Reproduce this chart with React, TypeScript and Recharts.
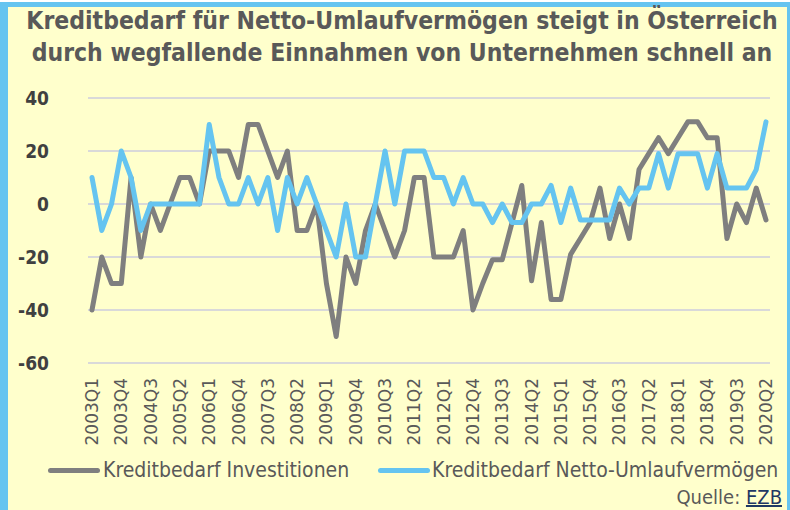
import { LineChart, Line, XAxis, YAxis, CartesianGrid } from "recharts"

// 2003Q1 .. 2020Q2
const years = [2003, 2004, 2005, 2006, 2007, 2008, 2009, 2010, 2011, 2012, 2013, 2014, 2015, 2016, 2017, 2018, 2019, 2020]
const quarters: string[] = years.flatMap((y) => [1, 2, 3, 4].map((q) => `${y}Q${q}`)).slice(0, 70)

const investitionen = [
  -40, -20, -30, -30, 10, -20, 0, -10, 0, 10, 10, 0, 20, 20, 20, 10, 30, 30, 20, 10,
  20, -10, -10, 0, -30, -50, -20, -30, -10, 0, -10, -20, -10, 10, 10, -20, -20, -20, -10, -40,
  -30, -21, -21, -7, 7, -29, -7, -36, -36, -19, -13, -7, 6, -13, 0, -13, 13, 19, 25, 19,
  25, 31, 31, 25, 25, -13, 0, -7, 6, -6,
]

const umlaufvermoegen = [
  10, -10, 0, 20, 10, -10, 0, 0, 0, 0, 0, 0, 30, 10, 0, 0, 10, 0, 10, -10,
  10, 0, 10, 0, -10, -20, 0, -20, -20, 0, 20, 0, 20, 20, 20, 10, 10, 0, 10, 0,
  0, -7, 0, -7, -7, 0, 0, 7, -7, 6, -6, -6, -6, -6, 6, 0, 6, 6, 19, 6,
  19, 19, 19, 6, 19, 6, 6, 6, 13, 31,
]

const yTicks = [-60, -40, -20, 0, 20, 40]

const data = quarters.map((q, i) => ({
  q,
  inv: investitionen[i],
  uml: umlaufvermoegen[i],
}))

const GRAY = "#7f7f7f"
const BLUE = "#65c4f0"
const TEXT = "#595959"

const XTick = ({ x, y, payload }: any) => (
  <text
    transform={`translate(${x},${y}) rotate(-90)`}
    textAnchor="end"
    dominantBaseline="central"
    fill={TEXT}
    fontSize={17}
    fontFamily="DejaVu Sans"
  >
    {payload.value}
  </text>
)

export default function App() {
  return (
    <div style={{ position: "absolute", left: 0, top: 0, width: 790, height: 510, background: "#fff", overflow: "hidden" }}>
      <div
        style={{
          position: "absolute",
          left: 0,
          top: 2,
          width: 790,
          height: 508,
          boxSizing: "border-box",
          background: "#ffffcc",
          borderLeft: `8px solid ${BLUE}`,
          borderTop: `5px solid ${BLUE}`,
          borderRight: `3px solid ${BLUE}`,
        }}
      />
      <div
        style={{
          position: "absolute",
          left: 14,
          top: 5,
          width: 776,
          textAlign: "center",
          fontFamily: "DejaVu Sans Condensed",
          fontWeight: "bold",
          fontSize: 24.5,
          lineHeight: "32px",
          color: TEXT,
        }}
      >
        Kreditbedarf für Netto-Umlaufvermögen steigt in Österreich
        <br />
        durch wegfallende Einnahmen von Unternehmen schnell an
      </div>

      <div style={{ position: "absolute", left: 0, top: 0 }}>
        <LineChart width={790} height={510} data={data} margin={{ top: 98, right: 20, bottom: 67, left: 28 }}>
          <CartesianGrid vertical={false} stroke="#d9d9d9" strokeWidth={2} />
          <XAxis
            dataKey="q"
            interval={2}
            axisLine={false}
            tickLine={false}
            tickSize={0}
            tickMargin={15}
            height={80}
            padding={{ left: 4, right: 4 }}
            tick={<XTick />}
          />
          <YAxis
            domain={[-60, 40]}
            ticks={yTicks}
            axisLine={false}
            tickLine={false}
            tickSize={0}
            tickMargin={39}
            width={60}
            tick={{ fill: "#404040", fontSize: 19, fontWeight: "bold", fontFamily: "DejaVu Sans Condensed" }}
          />
          <Line
            type="linear"
            dataKey="inv"
            stroke={GRAY}
            strokeWidth={5}
            dot={false}
            strokeLinejoin="round"
            strokeLinecap="round"
            isAnimationActive={false}
          />
          <Line
            type="linear"
            dataKey="uml"
            stroke={BLUE}
            strokeWidth={5}
            dot={false}
            strokeLinejoin="round"
            strokeLinecap="round"
            isAnimationActive={false}
          />
        </LineChart>
      </div>

      <div
        style={{
          position: "absolute",
          left: 0,
          top: 457,
          width: 790,
          height: 26,
          fontFamily: "DejaVu Sans Condensed",
          fontSize: 21,
          color: TEXT,
        }}
      >
        <div style={{ position: "absolute", left: 48, top: 11, width: 52, height: 5, borderRadius: 3, background: GRAY }} />
        <div style={{ position: "absolute", left: 103, top: 0, lineHeight: "26px", whiteSpace: "nowrap" }}>
          Kreditbedarf Investitionen
        </div>
        <div style={{ position: "absolute", left: 378, top: 11, width: 52, height: 5, borderRadius: 3, background: BLUE }} />
        <div style={{ position: "absolute", left: 432, top: 0, lineHeight: "26px", whiteSpace: "nowrap" }}>
          Kreditbedarf Netto-Umlaufvermögen
        </div>
      </div>

      <div
        style={{
          position: "absolute",
          right: 8,
          top: 484,
          lineHeight: "26px",
          fontFamily: "DejaVu Sans Condensed",
          fontSize: 20,
          color: TEXT,
          whiteSpace: "nowrap",
        }}
      >
        Quelle: <span style={{ color: "#1f3864", textDecoration: "underline" }}>EZB</span>
      </div>
    </div>
  )
}
